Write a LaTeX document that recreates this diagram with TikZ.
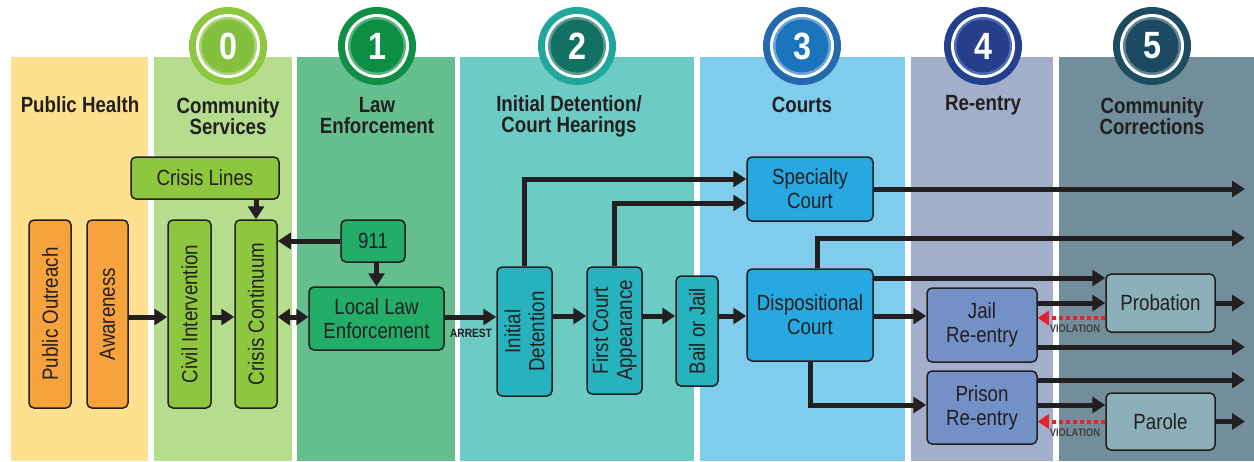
\documentclass[tikz,border=0pt]{standalone}
\usepackage{fontspec}
\setmainfont[FakeStretch=0.85]{Liberation Sans}
\usetikzlibrary{arrows.meta,calc}
\definecolor{ink}{HTML}{231F20}
\definecolor{bgPH}{HTML}{FDE18E}
\definecolor{bgCS}{HTML}{B6DC8E}
\definecolor{bgLE}{HTML}{66BF8F}
\definecolor{bgID}{HTML}{6CCBC3}
\definecolor{bgCO}{HTML}{7FCCEC}
\definecolor{bgRE}{HTML}{A1AFCB}
\definecolor{bgCC}{HTML}{718E9A}
\definecolor{fOr}{HTML}{F7A33D}
\definecolor{fCS}{HTML}{8DC63F}
\definecolor{fLE}{HTML}{22AE68}
\definecolor{fID}{HTML}{27B3BE}
\definecolor{fCO}{HTML}{27A8E0}
\definecolor{fRE}{HTML}{7390C7}
\definecolor{fCC}{HTML}{8CB0B9}
\definecolor{vred}{HTML}{E8202A}
\definecolor{oA}{HTML}{8DC63F}\definecolor{eA}{HTML}{A9D46F}\definecolor{iA}{HTML}{82C03E}
\definecolor{oB}{HTML}{0E8F45}\definecolor{eB}{HTML}{56B47A}\definecolor{iB}{HTML}{0C8F44}
\definecolor{oC}{HTML}{1FA79C}\definecolor{eC}{HTML}{5C9C93}\definecolor{iC}{HTML}{137163}
\definecolor{oD}{HTML}{2468AE}\definecolor{eD}{HTML}{6CA6DB}\definecolor{iD}{HTML}{1C75BC}
\definecolor{oE}{HTML}{23408E}\definecolor{eE}{HTML}{4A6BB5}\definecolor{iE}{HTML}{263F8C}
\definecolor{oF}{HTML}{1D4B5F}\definecolor{eF}{HTML}{5D8593}\definecolor{iF}{HTML}{1C4A63}
\tikzset{
  col/.style={fill=#1,draw=none},
  hdr/.style={font=\bfseries\fontsize{22}{21}\selectfont,text=ink,align=center},
  box/.style={draw=ink,line width=1.5pt,rounded corners=5pt,fill=#1,text=ink,
    font=\fontsize{22}{24}\selectfont,align=center,inner sep=0pt},
  arr/.style={draw=ink,line width=5pt,-{Triangle[length=13pt,width=16pt]}},
  darr/.style={draw=ink,line width=5pt,{Triangle[length=12pt,width=16pt]}-{Triangle[length=12pt,width=16pt]}},
  viol/.style={draw=vred,line width=4pt,dash pattern=on 4pt off 3pt,-{Triangle[length=11pt,width=14pt]}},
  small/.style={font=\bfseries\fontsize{11}{12}\selectfont,inner sep=0pt}
}
\newcommand\stagecirc[6]{%
  \node[circle,fill=#3,minimum size=78pt,inner sep=0pt] (#1) at #2 {};
  \node[circle,fill=white,minimum size=64pt,inner sep=0pt] at (#1) {};
  \node[circle,fill=#4,minimum size=58pt,inner sep=0pt] at (#1) {};
  \node[circle,fill=#5,minimum size=53pt,inner sep=0pt,text=white,
    font=\bfseries\fontsize{38}{38}\selectfont] at (#1) {#6};}
\begin{document}
\begin{tikzpicture}[x=1pt,y=-1pt]
\useasboundingbox[fill=white] (0,0) rectangle (1254,461);
% columns
\fill[bgPH] (11,57) rectangle (148,461);
\fill[bgCS] (154,57) rectangle (292,461);
\fill[bgLE] (297,57) rectangle (455,461);
\fill[bgID] (460,57) rectangle (694,461);
\fill[bgCO] (700,57) rectangle (905,461);
\fill[bgRE] (911,57) rectangle (1053,461);
\fill[bgCC] (1059,57) rectangle (1254,461);
% stage circles
\stagecirc{s0}{(228,46)}{oA}{eA}{iA}{0}
\stagecirc{s1}{(377,46)}{oB}{eB}{iB}{1}
\stagecirc{s2}{(577,46)}{oC}{eC}{iC}{2}
\stagecirc{s3}{(802,46)}{oD}{eD}{iD}{3}
\stagecirc{s4}{(983,46)}{oE}{eE}{iE}{4}
\stagecirc{s5}{(1152,46)}{oF}{eF}{iF}{5}
% headers
\node[hdr] (hPH) at (80,105) {Public Health};
\node[hdr] (hCS) at (228,116) {Community\\Services};
\node[hdr] (hLE) at (377,116) {Law\\Enforcement};
\node[hdr] (hID) at (569,116) {Initial Detention/\\Court Hearings};
\node[hdr] (hCO) at (802,105) {Courts};
\node[hdr] (hRE) at (983,105) {Re-entry};
\node[hdr] (hCC) at (1152,116) {Community\\Corrections};
% boxes
\node[box=fCS,minimum width=148pt,minimum height=42pt] (cl) at (205,178) {Crisis Lines};
\node[box=fOr,minimum width=42pt,minimum height=188pt,label={[rotate=90,text=ink,font=\fontsize{22}{24}\selectfont]center:Public Outreach}] (po) at (50,314) {};
\node[box=fOr,minimum width=41pt,minimum height=188pt,label={[rotate=90,text=ink,font=\fontsize{22}{24}\selectfont]center:Awareness}] (aw) at (107.5,314) {};
\node[box=fCS,minimum width=43pt,minimum height=188pt,label={[rotate=90,text=ink,font=\fontsize{22}{24}\selectfont]center:Civil Intervention}] (ci) at (189.5,314) {};
\node[box=fCS,minimum width=42pt,minimum height=188pt,label={[rotate=90,text=ink,font=\fontsize{22}{24}\selectfont]center:Crisis Continuum}] (cc) at (256,314) {};
\node[box=fLE,minimum width=64pt,minimum height=42pt] (e911) at (373,241) {911};
\node[box=fLE,minimum width=135pt,minimum height=63pt] (ll) at (376.5,318.5) {Local Law\\Enforcement};
\node[box=fID,minimum width=55pt,minimum height=129pt,label={[rotate=90,text=ink,align=center,font=\fontsize{22}{24}\selectfont]center:Initial\\Detention}] (idt) at (524.5,331.5) {};
\node[box=fID,minimum width=55pt,minimum height=127pt,label={[rotate=90,text=ink,align=center,font=\fontsize{22}{24}\selectfont]center:First Court\\Appearance}] (fca) at (614.5,330.5) {};
\node[box=fID,minimum width=42pt,minimum height=110pt,label={[rotate=90,text=ink,font=\fontsize{22}{24}\selectfont]center:Bail or Jail}] (bj) at (697,331) {};
\node[box=fCO,minimum width=126pt,minimum height=64pt] (sc) at (810,189) {Specialty\\Court};
\node[box=fCO,minimum width=126pt,minimum height=92pt] (dc) at (810,315) {Dispositional\\Court};
\node[box=fRE,minimum width=110pt,minimum height=74pt] (jr) at (982,325) {Jail\\Re-entry};
\node[box=fRE,minimum width=110pt,minimum height=73pt] (pr) at (982,407.5) {Prison\\Re-entry};
\node[box=fCC,minimum width=109pt,minimum height=58pt] (pb) at (1160.5,303) {Probation};
\node[box=fCC,minimum width=109pt,minimum height=57pt] (pa) at (1160.5,421.5) {Parole};
% free ends
\coordinate (e1) at (1245,189);
\coordinate (e2) at (1245,238);
\coordinate (e3) at (1245,303);
\coordinate (e4) at (1245,347);
\coordinate (e5) at (1245,380);
\coordinate (e6) at (1245,421.5);
% connectors
\draw[arr] (aw.east |- 0,317) -- (ci.west |- 0,317);
\draw[arr] (ci.east |- 0,317) -- (cc.west |- 0,317);
\draw[darr] (cc.east |- 0,317) -- (ll.west |- 0,317);
\draw[arr] (e911.west) -- (cc.east |- e911.west);
\draw[arr] (cc.north |- cl.south) -- (cc.north);
\draw[arr] (ll.south |- e911.south) -- (ll.north);
\draw[arr] (ll.east |- 0,317) -- (idt.west |- 0,317);
\node[small,text=ink,font=\bfseries\fontsize{12}{12}\selectfont] (arrest) at (471,333) {ARREST};
\draw[arr] (idt.east |- 0,316) -- (fca.west |- 0,316);
\draw[arr] (fca.east |- 0,316) -- (bj.west |- 0,316);
\draw[arr] (bj.east |- 0,316) -- (dc.west |- 0,316);
\draw[arr] (idt.north) |- (sc.west |- 0,179);
\draw[arr] (fca.north) |- (sc.west |- 0,203);
\draw[arr] (sc.east) -- (e1);
\draw[arr] ($(dc.north)+(7,0)$) |- (e2);
\draw[arr] (dc.east |- 0,278) -- (pb.west |- 0,278);
\draw[arr] (dc.east |- 0,316) -- (jr.west |- 0,316);
\draw[arr] (dc.south) |- (pr.west |- 0,405);
\draw[arr] (jr.east |- pb.west) -- (pb.west);
\draw[arr] (pb.east) -- (e3);
\draw[viol] (pb.west |- 0,318) -- (jr.east |- 0,318);
\node[small,text=ink!85] (v1) at (1075,329) {VIOLATION};
\draw[arr] (jr.east |- e4) -- (e4);
\draw[arr] (pr.east |- e5) -- (e5);
\draw[arr] (pr.east |- 0,405) -- (pa.west |- 0,405);
\draw[arr] (pa.east) -- (e6);
\draw[viol] (pa.west) -- (pr.east |- pa.west);
\node[small,text=ink!85] (v2) at (1075,433) {VIOLATION};
\end{tikzpicture}
\end{document}
